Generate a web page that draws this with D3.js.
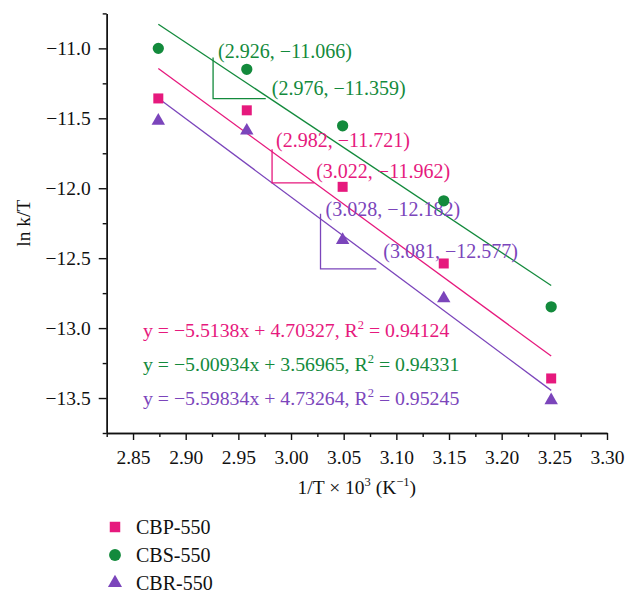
<!DOCTYPE html>
<html>
<head>
<meta charset="utf-8">
<script src="https://cdn.jsdelivr.net/npm/d3@7.9.0/dist/d3.min.js"></script>
<style>
  body { margin: 0; background: #fff; }
  svg text { font-family: "Liberation Serif", "Times New Roman", serif; }
</style>
</head>
<body>
<svg id="chart" width="626" height="592"></svg>
<script>
// data
const invT = [2.874, 2.958, 3.049, 3.145, 3.247];
const cbp = [-11.358, -11.443, -11.99, -12.538, -13.36];
const cbs = [-11.0, -11.15, -11.554, -12.09, -12.848];
const cbr = [-11.518, -11.589, -12.371, -12.788, -13.516];

const names = ['CBP-550', 'CBS-550', 'CBR-550'];
const colors = ['#e6197d', '#138a3c', '#7b45bb'];
const slopes = [-5.5138, -5.00934, -5.59834];
const intercepts = [4.70327, 3.56965, 4.73264];
const r2 = [0.94124, 0.94331, 0.95245];
const eqSlopeText = ['5.5138', '5.00934', '5.59834'];
const eqInterceptText = ['4.70327', '3.56965', '4.73264'];

// slope triangles: [x1, y1, x2, y2] for each series
const slopeTri = [
  [2.982, -11.721, 3.022, -11.962],
  [2.926, -11.066, 2.976, -11.359],
  [3.028, -12.182, 3.081, -12.577]
];

const xTicks = [2.85, 2.90, 2.95, 3.00, 3.05, 3.10, 3.15, 3.20, 3.25, 3.30];
const xMinor = [2.825, 2.875, 2.925, 2.975, 3.025, 3.075, 3.125, 3.175, 3.225, 3.275];
const yTicks = [-11.0, -11.5, -12.0, -12.5, -13.0, -13.5];
const yMinor = [-10.75, -11.25, -11.75, -12.25, -12.75, -13.25, -13.75];

const series = [cbp, cbs, cbr];
const symbols = [d3.symbolSquare, d3.symbolCircle, d3.symbolTriangle];
const symSizes = [100, 100, 78];

const svg = d3.select('#chart');
const mLeft = 106.7, mRight = 607, mTop = 13.4, mBottom = 433;

const x = d3.scaleLinear().domain([2.825, 3.30]).range([mLeft, mRight]);
const y = d3.scaleLinear().domain([-13.75, -10.75]).range([mBottom, mTop]);

const fs = 19.5;

// axes
svg.append('g').attr('transform', `translate(0,${mBottom})`)
  .call(d3.axisBottom(x).tickValues(xTicks).tickFormat(d3.format('.2f')).tickSize(7).tickPadding(10).tickSizeOuter(0));
svg.append('g').attr('transform', `translate(0,${mBottom})`)
  .call(d3.axisBottom(x).tickValues(xMinor).tickFormat('').tickSize(4).tickSizeOuter(0));
svg.append('g').attr('transform', `translate(${mLeft},0)`)
  .call(d3.axisLeft(y).tickValues(yTicks).tickFormat(d3.format('.1f')).tickSize(8).tickPadding(8).tickSizeOuter(0));
svg.append('g').attr('transform', `translate(${mLeft},0)`)
  .call(d3.axisLeft(y).tickValues(yMinor).tickFormat('').tickSize(4).tickSizeOuter(0));

svg.selectAll('.domain, .tick line').attr('stroke', '#111').attr('stroke-width', 1.4);
svg.selectAll('.tick text').attr('font-size', fs).attr('fill', '#111')
  .attr('font-family', '"Liberation Serif", serif');

// axis titles
const xt = svg.append('text').attr('x', (mLeft + mRight) / 2).attr('y', 494)
  .attr('text-anchor', 'middle').attr('font-size', fs).attr('fill', '#111');
xt.append('tspan').text('1/T × 10');
xt.append('tspan').attr('font-size', 12.5).attr('dy', -8).text('3');
xt.append('tspan').attr('dy', 8).text(' (K');
xt.append('tspan').attr('font-size', 12.5).attr('dy', -8).text('−1');
xt.append('tspan').attr('dy', 8).text(')');

svg.append('text').attr('transform', `translate(30,${(mTop + mBottom) / 2}) rotate(-90)`)
  .attr('text-anchor', 'middle').attr('font-size', fs).attr('fill', '#111').text('ln k/T');

// fit lines
const xMin = d3.min(invT), xMax = d3.max(invT);
series.forEach((s, i) => {
  svg.append('line')
    .attr('x1', x(xMin)).attr('y1', y(slopes[i] * xMin + intercepts[i]))
    .attr('x2', x(xMax)).attr('y2', y(slopes[i] * xMax + intercepts[i]))
    .attr('stroke', colors[i]).attr('stroke-width', 1.3);
});

// slope triangles + labels
const labelOffsets = [[[4, -2], [2, -5]], [[5, 0], [6, -4]], [[5, 2], [7, -11]]];
slopeTri.forEach((t, i) => {
  const [x1, y1, x2, y2] = t;
  svg.append('path')
    .attr('d', `M${x(x1)},${y(y1)}L${x(x1)},${y(y2)}L${x(x2)},${y(y2)}`)
    .attr('fill', 'none').attr('stroke', colors[i]).attr('stroke-width', 1.3);
  [[x1, y1], [x2, y2]].forEach((p, j) => {
    svg.append('text')
      .attr('x', x(p[0]) + labelOffsets[i][j][0]).attr('y', y(p[1]) + labelOffsets[i][j][1])
      .attr('font-size', 20).attr('fill', colors[i])
      .text(`(${d3.format('.3f')(p[0])}, ${d3.format('.3f')(p[1])})`);
  });
});

// markers
series.forEach((s, i) => {
  svg.append('g').selectAll('path').data(s).join('path')
    .attr('transform', (d, k) => `translate(${x(invT[k])},${y(d)})`)
    .attr('d', d3.symbol().type(symbols[i]).size(symSizes[i]))
    .attr('fill', colors[i]);
});

// equations
series.forEach((s, i) => {
  const t = svg.append('text').attr('x', 143).attr('y', 337 + i * 34)
    .attr('font-size', 19.8).attr('fill', colors[i]);
  t.append('tspan').text(`y = −${eqSlopeText[i]}x + ${eqInterceptText[i]}, R`);
  t.append('tspan').attr('font-size', 12.5).attr('dy', -8).text('2');
  t.append('tspan').attr('dy', 8).text(` = ${r2[i]}`);
});

// legend
names.forEach((n, i) => {
  const ly = 527 + i * 28;
  svg.append('path').attr('transform', `translate(115,${ly})`)
    .attr('d', d3.symbol().type(symbols[i]).size(symSizes[i] * 1.1))
    .attr('fill', colors[i]);
  svg.append('text').attr('x', 136).attr('y', ly + 6.5)
    .attr('font-size', 20).attr('fill', '#111').text(n);
});
</script>
</body>
</html>
